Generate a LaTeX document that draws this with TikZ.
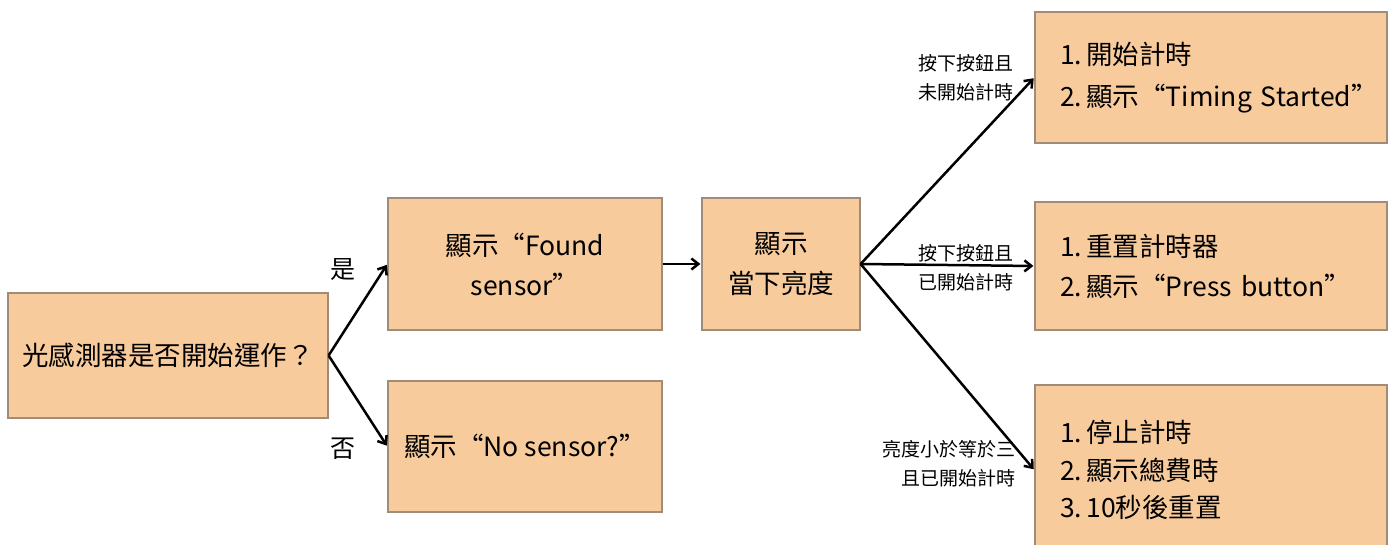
\documentclass[tikz,border=0pt]{standalone}
\usepackage{fontspec}
\setmainfont{Noto Sans CJK TC}
\usetikzlibrary{arrows.meta}
\definecolor{boxfill}{HTML}{F8CB9D}
\definecolor{boxline}{HTML}{A08C78}
\begin{document}
\begin{tikzpicture}[x=1pt,y=-1pt,
  box/.style={draw=boxline, fill=boxfill, line width=1.2pt, inner sep=0pt, align=center,
    font=\fontsize{26.5}{40}\selectfont},
  listbox/.style={box, align=left, inner xsep=25pt, text width=302pt},
  lbl/.style={font=\fontsize{19}{29}\selectfont, inner sep=0pt},
  yn/.style={font=\fontsize{25}{28}\selectfont, inner sep=0pt},
  arr/.style={-{Straight Barb[length=7pt,width=11pt,line width=2.5pt]}, line width=2.5pt, shorten >=1pt}
]
\useasboundingbox (0,0) rectangle (1395,545);
\node[box, minimum width=320pt, minimum height=125pt] (A) at (168,355.5) {光感測器是否開始運作？};
\node[box, minimum width=274pt, minimum height=132pt] (B) at (525,264) {顯示“Found\\sensor”};
\node[box, minimum width=274pt, minimum height=131pt] (C) at (525,446.5) {顯示“No sensor?”};
\node[box, minimum width=158pt, minimum height=132pt] (D) at (781,264) {顯示\\當下亮度};
\node[listbox, minimum height=131pt, font=\fontsize{26.5}{42}\selectfont] (E) at (1211,77.5) {\mbox{1.\,開始計時}\\\mbox{2.\,顯示“Timing Started”}};
\node[listbox, minimum height=128pt] (F) at (1211,266) {\mbox{1.\,重置計時器}\\\mbox{2.\,顯示“Press button”}};
\node[listbox, minimum height=170pt, font=\fontsize{26.5}{37.5}\selectfont] (G) at (1211,470) {\mbox{1.\,停止計時}\\\mbox{2.\,顯示總費時}\\\mbox{3.\,10秒後重置}};
\draw[arr] (A.east) -- (B.west);
\draw[arr] (A.east) -- (C.west);
\draw[arr] (B.east) -- (D.west);
\draw[arr] (D.east) -- (E.west);
\draw[arr] (D.east) -- (F.west);
\draw[arr] (D.east) -- (G.west);
\node[yn] (yes) at (343,270) {是};
\node[yn] (no) at (343,449) {否};
\node[lbl, align=center] (l1) at (966,78) {按下按鈕且\\未開始計時};
\node[lbl, align=center] (l2) at (966,268) {按下按鈕且\\已開始計時};
\node[lbl, align=right, anchor=east] (l3) at (1016,464) {亮度小於等於三\\且已開始計時};
\end{tikzpicture}
\end{document}
